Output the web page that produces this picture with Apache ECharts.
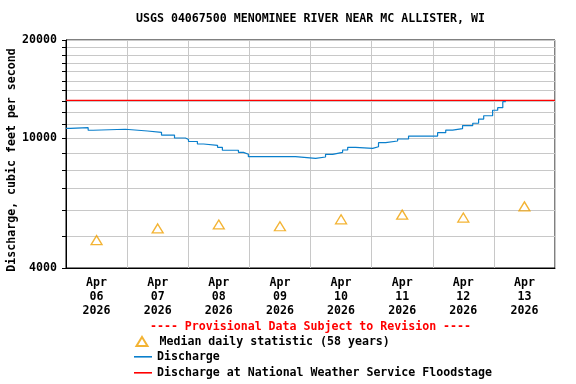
<!DOCTYPE html>
<html><head><meta charset="utf-8">
<script src="https://cdn.jsdelivr.net/npm/echarts@6/dist/echarts.min.js"></script>
<style>html,body{margin:0;padding:0;background:#fff}#c{width:576px;height:384px}</style>
</head><body><div id="c"></div>
<script>
const titleText = 'USGS 04067500 MENOMINEE RIVER NEAR MC ALLISTER, WI';
const noteText = '---- Provisional Data Subject to Revision ----';
const dayLabels = ['Apr\n06\n2026','Apr\n07\n2026','Apr\n08\n2026','Apr\n09\n2026','Apr\n10\n2026','Apr\n11\n2026','Apr\n12\n2026','Apr\n13\n2026'];
const medianValues = [4870, 5290, 5440, 5370, 5640, 5830, 5710, 6180];
// hours since Apr 06 2026 00:00
const dischargeHours = [0, 1.7, 8.7, 10.7, 23.3, 32, 37.5, 42.6, 46.9, 48.1, 51.6, 54, 59.5, 61.4, 67.7, 69.7, 71.6, 90.1, 98, 101.9, 104.7, 108.6, 110.6, 113.7, 120.4, 122.7, 125.5, 130.2, 134.5, 145.9, 149.1, 151.8, 155.7, 159.7, 162, 164, 167.5, 169.5, 171.5, 172.7];
const dischargeValues = [10724, 10770, 10576, 10650, 10521, 10422, 10225, 10015, 9911, 9770, 9597, 9510, 9376, 9183, 9050, 8925, 8776, 8677, 8757, 8925, 9050, 9200, 9376, 9311, 9416, 9690, 9804, 9945, 10152, 10395, 10593, 10695, 10929, 11111, 11448, 11716, 12180, 12407, 12937, 12937];
const floodstageValue = 13060;
const yTickValues = [4000,5000,6000,7000,8000,9000,10000,11000,12000,13000,14000,15000,16000,17000,18000,19000,20000];
const yLabelValues = [4000,10000,20000];
const xRangeHours = [0, 192];

const NAME_MEDIAN = 'Median daily statistic (58 years)';
const NAME_Q = 'Discharge';
const NAME_FLOOD = 'Discharge at National Weather Service Floodstage';

const FONT = '"DejaVu Sans Mono", monospace';
const FS = 11.6;
const legendText = {fontFamily:FONT, fontWeight:'bold', fontSize:FS, color:'#000'};
const chart = echarts.init(document.getElementById('c'), null, {renderer:'canvas'});
chart.setOption({
  animation:false,
  backgroundColor:'#fff',
  grid:{left:66, right:21, top:40, bottom:116, outerBoundsMode:'none', containLabel:false,
        show:true, borderColor:'#000', borderWidth:1, backgroundColor:'transparent'},
  graphic:[
    {type:'text', x:310.5, y:19, style:{text:titleText, font:'bold '+FS+'px '+FONT, fill:'#000', align:'center', verticalAlign:'middle'}},
    {type:'text', x:310.5, y:327, style:{text:noteText, font:'bold '+FS+'px '+FONT, fill:'#ff0000', align:'center', verticalAlign:'middle'}}
  ],
  legend:[
    {left:135.5, top:335.5, padding:0, itemWidth:11, itemHeight:9, selectedMode:false, textStyle:legendText,
     formatter:function(n){return ' '+n;}, data:[NAME_MEDIAN]},
    {left:134, top:350.8, padding:0, itemWidth:18, itemHeight:1.6, selectedMode:false, textStyle:legendText,
     data:[{name:NAME_Q, icon:'rect'}]},
    {left:134, top:366.8, padding:0, itemWidth:18, itemHeight:1.6, selectedMode:false, textStyle:legendText,
     data:[{name:NAME_FLOOD, icon:'rect'}]}
  ],
  xAxis:[
    {type:'value', min:xRangeHours[0], max:xRangeHours[1], interval:24,
     axisLine:{show:true, lineStyle:{color:'#000'}}, axisTick:{show:false}, axisLabel:{show:false},
     splitLine:{show:true, lineStyle:{color:'#c8c8c8', width:1}}},
    {type:'category', data:dayLabels, position:'bottom', boundaryGap:true,
     axisLine:{show:false}, axisTick:{show:false}, splitLine:{show:false},
     axisLabel:{fontFamily:FONT, fontWeight:'bold', fontSize:FS, color:'#000', lineHeight:14, margin:8}}
  ],
  yAxis:{type:'log', logBase:10, min:4000, max:20000,
    axisLine:{show:true, lineStyle:{color:'#000'}},
    axisTick:{show:true, inside:false, length:4, customValues:yTickValues, lineStyle:{color:'#000'}},
    axisLabel:{customValues:yLabelValues, fontFamily:FONT, fontWeight:'bold', fontSize:FS, color:'#000', margin:9,
      formatter:function(v){return String(Math.round(v));}},
    splitLine:{show:true, lineStyle:{color:'#c8c8c8', width:1}},
    name:'Discharge, cubic feet per second', nameLocation:'middle', nameRotate:90, nameGap:48, nameMoveOverlap:false,
    nameTextStyle:{fontFamily:FONT, fontWeight:'bold', fontSize:FS, color:'#000', padding:[0,12,0,0]}
  },
  series:[
    {name:NAME_MEDIAN, type:'scatter', xAxisIndex:1, yAxisIndex:0,
     data:medianValues, symbol:'triangle', symbolSize:[11,9],
     itemStyle:{color:'rgba(0,0,0,0)', borderColor:'#f0a000', borderWidth:1.3}, z:4},
    {name:NAME_Q, type:'line', xAxisIndex:0, step:'end', symbol:'none',
     data:dischargeHours.map(function(h,i){return [h, dischargeValues[i]];}),
     lineStyle:{color:'#0a7fcc', width:1.2}, itemStyle:{color:'#0a7fcc'}, z:3},
    {name:NAME_FLOOD, type:'line', xAxisIndex:0, symbol:'none',
     data:[[xRangeHours[0], floodstageValue],[xRangeHours[1], floodstageValue]],
     lineStyle:{color:'#ff0000', width:1.2}, itemStyle:{color:'#ff0000'}, z:2}
  ]
});
</script></body></html>
